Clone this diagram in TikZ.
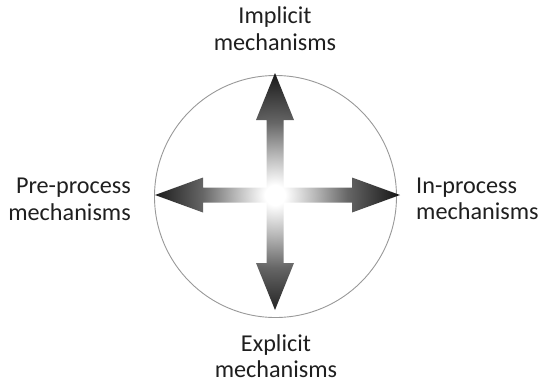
\documentclass[tikz,border=0pt]{standalone}
\usepackage{fontspec}
\setmainfont{Carlito}
\usetikzlibrary{calc}

% fade from a white core to near-black tips (25bp = edge of the shaded disc)
\pgfdeclareradialshading{corefade}{\pgfpoint{0bp}{0bp}}{%
  color(0bp)=(white);
  color(2bp)=(white);
  color(8bp)=(black!28);
  color(14.5bp)=(black!60);
  color(25bp)=(black!92);
  color(50bp)=(black!92)}

\begin{document}
\begin{tikzpicture}[x=1pt,y=-1pt,
  label/.style={font=\fontsize{24.2}{26.7}\selectfont, text=black!88, inner sep=0pt},
  rim/.style={draw=black!40, line width=0.9pt}]
\useasboundingbox (0,0) rectangle (542,384);

% outer circle
\draw[rim] (275.5,196.5) circle (121);

% the four-way arrow
\coordinate (c) at (275,195);
\begin{scope}
  \clip (275,73) -- (294,120) -- (283.5,120) -- (283.5,187.5)
        -- (352,187.5) -- (352,177.5) -- (400,195) -- (352,212.5) -- (352,202.5)
        -- (283.5,202.5) -- (283.5,263) -- (294,263) -- (275,310) -- (256,263)
        -- (266.5,263) -- (266.5,202.5) -- (203,202.5) -- (203,212.5) -- (155,195)
        -- (203,177.5) -- (203,187.5) -- (266.5,187.5) -- (266.5,120) -- (256,120)
        -- cycle;
  \shade[shading=corefade] (c) circle (125);
\end{scope}

% labels
\node[label, align=center, anchor=north] (implicit) at (275,6.5) {Implicit\\mechanisms};
\node[label, align=center, anchor=north] (explicit) at (276,334) {Explicit\\mechanisms};
\node[label, align=right, anchor=north east] (preproc) at (131,178) {Pre-process\\mechanisms};
\node[label, align=left, anchor=north west] (inproc) at (416,177.5) {In-process\\mechanisms};
\end{tikzpicture}
\end{document}
